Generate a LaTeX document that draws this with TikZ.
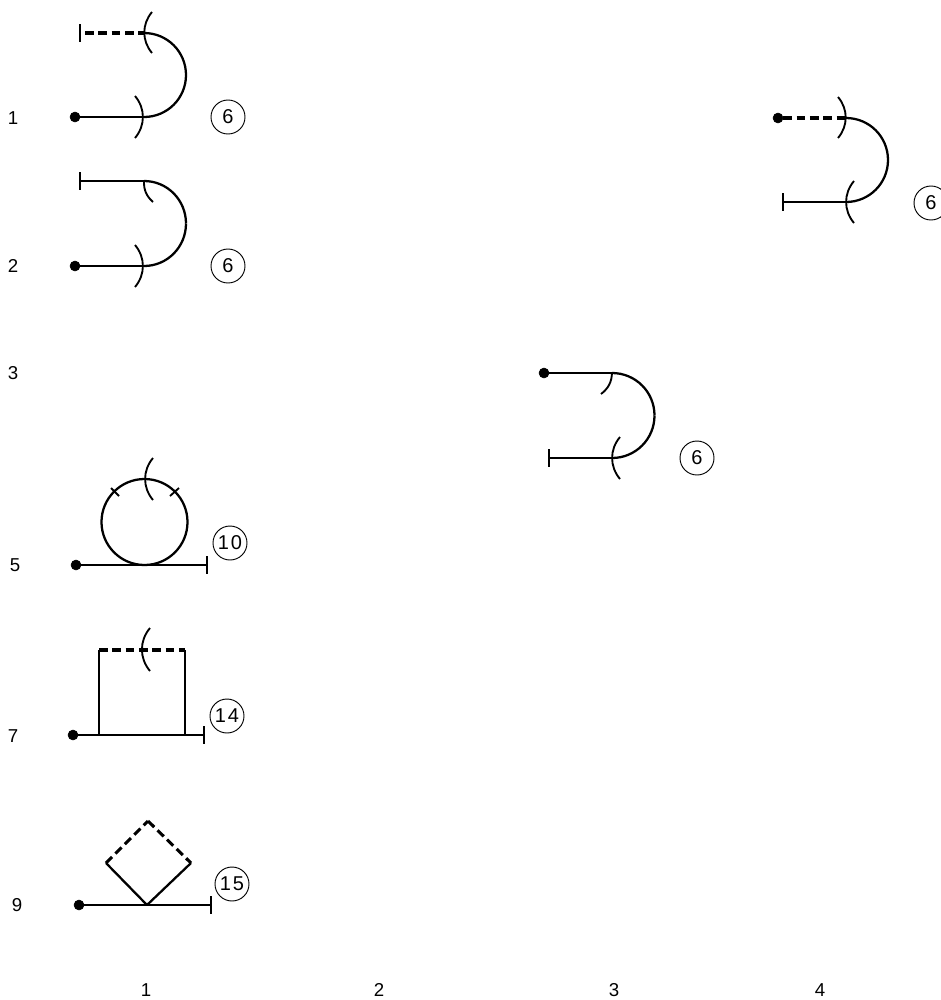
\documentclass[tikz,border=0pt]{standalone}
\usepackage{fontspec}
\setmainfont{Liberation Sans}
\newfontfamily\ringfont[LetterSpace=10]{Liberation Sans}
\usepackage{tikz}
\usetikzlibrary{arrows.meta}
\tikzset{dot/.style={draw,circle,fill=black,inner sep=0pt,minimum size=7.5pt},
  ring/.style={draw,circle,line width=0.7pt,inner sep=0pt,minimum size=25.5pt,font=\ringfont\fontsize{15}{18}\selectfont},
  lab/.style={inner sep=0pt,font=\fontsize{14}{17}\selectfont},
  wire/.style={line width=1.7pt},
  thin mark/.style={line width=1.4pt},
  dashes/.style={line width=2.3pt,dash pattern=on 6.5pt off 3.5pt},
  bar end/.style={{Bar[width=13pt,line width=1.4pt]}-},
  end bar/.style={-{Bar[width=13pt,line width=1.4pt]}},
  hook top/.style={out=0,in=90},
  hook low/.style={out=-90,in=0}}

\begin{document}
\begin{tikzpicture}[x=0.75pt, y=-0.75pt]
\useasboundingbox (0,0) rectangle (940,1000);
% row and column numbers
\node[lab] (R1) at (13,118) {1};
\node[lab] (R2) at (13,266) {2};
\node[lab] (R3) at (13,373) {3};
\node[lab] (R5) at (15,565) {5};
\node[lab] (R7) at (13,736) {7};
\node[lab] (R9) at (17,905) {9};
\node[lab] (C1) at (146,990) {1};
\node[lab] (C2) at (379,990) {2};
\node[lab] (C3) at (614,990) {3};
\node[lab] (C4) at (820,990) {4};
% row 1
\node[dot] (A0) at (75,117) {};
\node[ring] (A9) at (228,117) {6};
\coordinate (A1) at (79,33); \coordinate (A2) at (144,33); \coordinate (A3) at (144,117);
\coordinate (A4) at (152,12); \coordinate (A5) at (152,53);
\coordinate (A6) at (135,96); \coordinate (A7) at (135,138);
\coordinate (A8) at (186,75);
\path[wire](A0.center) edge (A3)
	(A2) edge [hook top] (A8)
	(A8) edge [hook low] (A3)
	(A1) edge [bar end, dashes, dash phase=6.5pt] (A2);
\path[thin mark](A4) edge [bend right=40] (A5)
	(A6) edge [bend left=40] (A7);
% row 2
\node[dot] (B0) at (75,266) {};
\node[ring] (B9) at (228,266) {6};
\coordinate (B1) at (79,181); \coordinate (B2) at (144,181); \coordinate (B3) at (144,266);
\coordinate (B4) at (153,202);
\coordinate (B6) at (135,245); \coordinate (B7) at (135,287);
\coordinate (B8) at (186,223.5);
\path[wire](B0.center) edge (B3)
	(B2) edge [hook top] (B8)
	(B8) edge [hook low] (B3)
	(B1) edge [bar end] (B2);
\path[thin mark](B2) edge [bend right=25] (B4)
	(B6) edge [bend left=40] (B7);
% the two hooks further right
\node[dot] (E0) at (544,373) {};
\node[ring] (E9) at (697,458) {6};
\coordinate (E1) at (548,458); \coordinate (E2) at (612,373); \coordinate (E3) at (612,458);
\coordinate (E4) at (601,394);
\coordinate (E6) at (620,437); \coordinate (E7) at (620,479);
\coordinate (E8) at (654.5,415.5);
\path[wire](E0.center) edge (E2)
	(E2) edge [hook top] (E8)
	(E8) edge [hook low] (E3)
	(E1) edge [bar end] (E3);
\path[thin mark](E2) edge [bend left=25] (E4)
	(E6) edge [bend right=40] (E7);
\node[dot] (F0) at (778,118) {};
\node[ring] (F9) at (931,203) {6};
\coordinate (F1) at (782,202); \coordinate (F2) at (846,118); \coordinate (F3) at (846,202);
\coordinate (F4) at (838,97); \coordinate (F5) at (838,138);
\coordinate (F6) at (854,181); \coordinate (F7) at (854,223);
\coordinate (F8) at (888,160);
\path[wire](F2) edge [hook top] (F8)
	(F8) edge [hook low] (F3)
	(F1) edge [bar end] (F3)
	(F0) edge [dashes] (F2);
\path[thin mark](F4) edge [bend left=40] (F5)
	(F6) edge [bend right=40] (F7);
% row 5
\node[dot] (G0) at (76,565) {};
\node[ring] (G9) at (230,543) {10};
\node[draw,circle,wire,inner sep=0pt,minimum size=64.5pt] (G8) at (144.5,522) {};
\coordinate (G1) at (208,565);
\coordinate (G4) at (153,458); \coordinate (G5) at (153,500);
\coordinate (G6) at (111,488); \coordinate (G7) at (119,496);
\coordinate (G2) at (170,496); \coordinate (G3) at (179,488);
\path[wire](G0.center) edge [end bar] (G1);
\path[thin mark](G4) edge [bend right=40] (G5)
	(G6) edge (G7)
	(G2) edge (G3);
% row 7
\node[dot] (H0) at (73,735) {};
\node[ring] (H9) at (227,716) {14};
\coordinate (H1) at (205,735); \coordinate (H2) at (99,735); \coordinate (H3) at (99,650);
\coordinate (H4) at (185,650); \coordinate (H5) at (185,735);
\coordinate (H6) at (150,628); \coordinate (H7) at (150,671);
\path[wire](H0.center) edge [end bar] (H1)
	(H2) edge (H3)
	(H4) edge (H5)
	(H3) edge [dashes] (H4);
\path[thin mark](H6) edge [bend right=40] (H7);
% row 9
\node[dot] (K0) at (79,905) {};
\node[ring] (K9) at (232,884) {15};
\coordinate (K1) at (212,905); \coordinate (K2) at (147,905); \coordinate (K3) at (106,863);
\coordinate (K4) at (148,821); \coordinate (K5) at (191,863);
\path[wire](K0.center) edge [end bar] (K1)
	(K2) edge (K3)
	(K2) edge (K5)
	(K3) edge [dashes] (K4)
	(K4) edge [dashes] (K5);
\end{tikzpicture}
\end{document}
